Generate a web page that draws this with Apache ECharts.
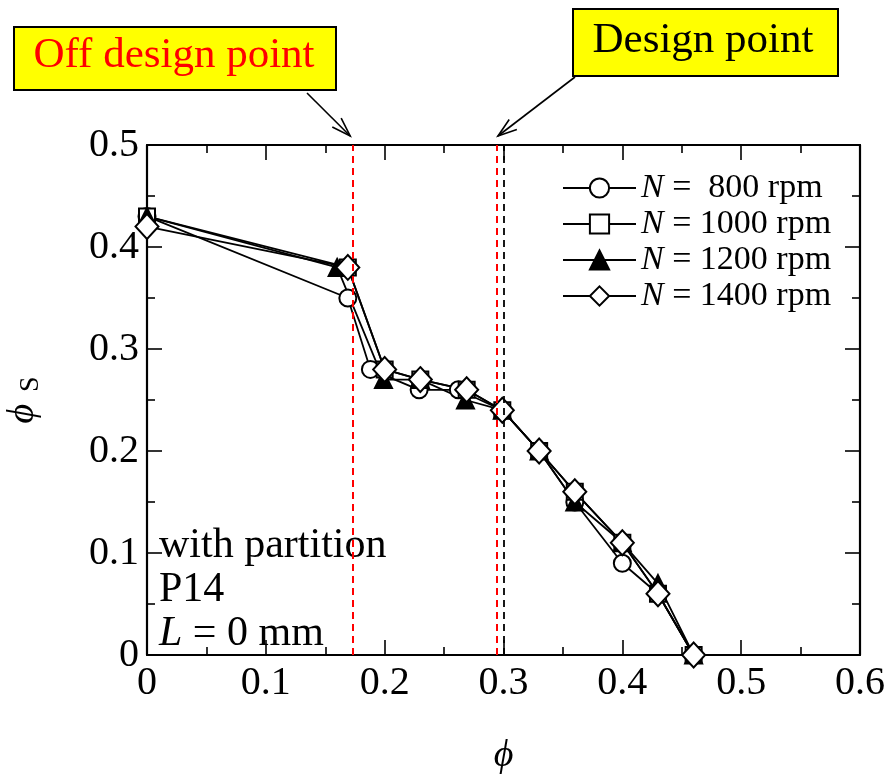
<!DOCTYPE html>
<html>
<head>
<meta charset="utf-8">
<script src="https://cdn.jsdelivr.net/npm/echarts@6/dist/echarts.min.js"></script>
<style>
  html, body { margin: 0; padding: 0; background: #fff; }
  #chart { width: 890px; height: 774px; }
</style>
</head>
<body>
<div id="chart"></div>
<script>
// speeds (rpm) and phi / phi_s values
const speeds = ["800", "1000", "1200", "1400"];
const phi800 = [0, 0.169, 0.188, 0.229, 0.262, 0.299, 0.33, 0.36, 0.40, 0.43, 0.46];
const phis800 = [0.43, 0.35, 0.28, 0.26, 0.26, 0.24, 0.20, 0.15, 0.09, 0.06, 0];
const phi1000 = [0, 0.169, 0.20, 0.23, 0.269, 0.299, 0.33, 0.36, 0.40, 0.43, 0.46];
const phis1000 = [0.43, 0.38, 0.28, 0.27, 0.26, 0.24, 0.20, 0.16, 0.11, 0.06, 0];
const phi1200 = [0, 0.16, 0.199, 0.23, 0.268, 0.299, 0.33, 0.36, 0.40, 0.43, 0.46];
const phis1200 = [0.43, 0.38, 0.27, 0.27, 0.25, 0.24, 0.20, 0.15, 0.11, 0.07, 0];
const phi1400 = [0, 0.169, 0.20, 0.23, 0.269, 0.299, 0.33, 0.36, 0.40, 0.43, 0.46];
const phis1400 = [0.42, 0.38, 0.28, 0.27, 0.26, 0.24, 0.20, 0.16, 0.11, 0.06, 0];
const offDesign = [0.1735, 0.2945]; // red dashed lines
const designPoint = 0.3;            // black dashed line

const FONT = "Liberation Serif";
const zip = (xs, ys) => xs.map((x, i) => [x, ys[i]]);

const chart = echarts.init(document.getElementById("chart"));

function axisX(pos, showLabel) {
  return {
    type: "value", position: pos, min: 0, max: 0.6, interval: 0.1,
    axisLine: { show: true, onZero: false, lineStyle: { color: "#000", width: 2.2 } },
    axisTick: { inside: true, length: 15, lineStyle: { color: "#000", width: 1.6 } },
    minorTick: { show: true, splitNumber: 2, length: 8, lineStyle: { color: "#000", width: 1.6 } },
    splitLine: { show: false },
    axisLabel: { show: showLabel, color: "#000", fontFamily: FONT, fontSize: 40, margin: 8,
      formatter: v => (v === 0 ? "0" : v.toFixed(1)) },
    name: showLabel ? "ϕ" : "", nameLocation: "middle", nameGap: 82,
    nameTextStyle: { color: "#000", fontFamily: FONT, fontSize: 38, fontStyle: "italic" }
  };
}
function axisY(pos, showLabel) {
  return {
    type: "value", position: pos, min: 0, max: 0.5, interval: 0.1,
    axisLine: { show: true, onZero: false, lineStyle: { color: "#000", width: 2.2 } },
    axisTick: { inside: true, length: 15, lineStyle: { color: "#000", width: 1.6 } },
    minorTick: { show: true, splitNumber: 2, length: 8, lineStyle: { color: "#000", width: 1.6 } },
    splitLine: { show: false },
    axisLabel: { show: showLabel, color: "#000", fontFamily: FONT, fontSize: 40, margin: 8,
      formatter: v => (v === 0 ? "0" : v.toFixed(1)) },
    name: showLabel ? "{p|ϕ}{s|S}" : "", nameLocation: "middle", nameGap: 102, nameRotate: 90,
    nameTextStyle: { color: "#000", fontFamily: FONT,
      rich: { p: { fontSize: 38, fontFamily: FONT, fontStyle: "italic", color: "#000" },
              s: { fontSize: 28, fontFamily: FONT, color: "#000", padding: [16, 0, 0, 12] } } }
  };
}

const markerDefs = {
  "800": { symbol: "circle", size: 17, fill: "#fff" },
  "1000": { symbol: "rect", size: 16, fill: "#fff" },
  "1200": { symbol: "triangle", size: 17, fill: "#000" },
  "1400": { symbol: "diamond", size: [23, 25], fill: "#fff" }
};
const dataBySpeed = {
  "800": zip(phi800, phis800),
  "1000": zip(phi1000, phis1000),
  "1200": zip(phi1200, phis1200),
  "1400": zip(phi1400, phis1400)
};

function vline(x, color, width) {
  return {
    type: "line", data: [], silent: true, z: 2,
    markLine: { silent: true, symbol: "none", precision: 5, label: { show: false },
      lineStyle: { color: color, type: [7, 5], width: width },
      data: [{ xAxis: x }] }
  };
}

const series = [
  vline(offDesign[0], "#ff0000", 2),
  vline(offDesign[1], "#ff0000", 2),
  vline(designPoint, "#000", 1.8)
].concat(speeds.map(s => ({
  name: s, type: "line", data: dataBySpeed[s],
  symbol: markerDefs[s].symbol, symbolSize: markerDefs[s].size, showAllSymbol: true,
  lineStyle: { color: "#000", width: 1.8 },
  itemStyle: { color: markerDefs[s].fill, borderColor: "#000", borderWidth: 2 },
  emphasis: { disabled: true }, z: 3
})));

chart.setOption({
  animation: false,
  grid: { left: 147, right: 30, top: 145, bottom: 119, outerBoundsMode: "none", containLabel: false },
  xAxis: [axisX("bottom", true), axisX("top", false)],
  yAxis: [axisY("left", true), axisY("right", false)],
  legend: {
    data: speeds, orient: "vertical", left: 557, top: 166,
    itemWidth: 73, itemHeight: 24, itemGap: 2, selectedMode: false,
    formatter: n => "{i|N}{t| = " + (n === "800" ? " " : "") + n + " rpm}",
    textStyle: { color: "#000", fontFamily: FONT, fontSize: 34, lineHeight: 30,
      rich: { i: { fontStyle: "italic", fontFamily: FONT, fontSize: 34, lineHeight: 30, color: "#000" },
              t: { fontFamily: FONT, fontSize: 34, lineHeight: 30, color: "#000" } } }
  },
  series: series
});

// annotation boxes, arrows and in-plot text
const tipOff = chart.convertToPixel({ xAxisIndex: 0, yAxisIndex: 0 }, [offDesign[0], 0.5]);
const tipDes = chart.convertToPixel({ xAxisIndex: 0, yAxisIndex: 0 }, [offDesign[1], 0.5]);
function arrow(x1, y1, x2, y2) {
  const a = Math.atan2(y2 - y1, x2 - x1), L = 20, w = 0.32;
  return [
    { type: "line", shape: { x1, y1, x2, y2 }, style: { stroke: "#000", lineWidth: 1.6 } },
    { type: "polyline", shape: { points: [
      [x2 - L * Math.cos(a - w), y2 - L * Math.sin(a - w)], [x2, y2],
      [x2 - L * Math.cos(a + w), y2 - L * Math.sin(a + w)]] },
      style: { stroke: "#000", lineWidth: 1.6, fill: null } }
  ];
}
chart.setOption({
  graphic: [
    { type: "rect", shape: { x: 14, y: 27, width: 322, height: 63 },
      style: { fill: "#ffff00", stroke: "#000", lineWidth: 2 } },
    { type: "text", x: 174, y: 56, style: { text: "Off design point", fill: "#ff0000",
      font: "43px " + FONT, align: "center", verticalAlign: "middle" } },
    { type: "rect", shape: { x: 573, y: 9, width: 265, height: 67 },
      style: { fill: "#ffff00", stroke: "#000", lineWidth: 2 } },
    { type: "text", x: 703, y: 41, style: { text: "Design point", fill: "#000",
      font: "43px " + FONT, align: "center", verticalAlign: "middle" } },
    ...arrow(307, 93, tipOff[0] - 3, tipOff[1] - 9),
    ...arrow(575, 77, tipDes[0] + 1, tipDes[1] - 9),
    { type: "text", x: 159, y: 546, style: { text: "with partition", fill: "#000",
      font: "42px " + FONT, verticalAlign: "middle" } },
    { type: "text", x: 159, y: 590, style: { text: "P14", fill: "#000",
      font: "42px " + FONT, verticalAlign: "middle" } },
    { type: "text", x: 159, y: 634, style: { text: "{i|L} = 0 mm", fill: "#000",
      font: "42px " + FONT, verticalAlign: "middle",
      rich: { i: { fontStyle: "italic", fontFamily: FONT, fontSize: 42, fill: "#000" } } } }
  ]
});
</script>
</body>
</html>
